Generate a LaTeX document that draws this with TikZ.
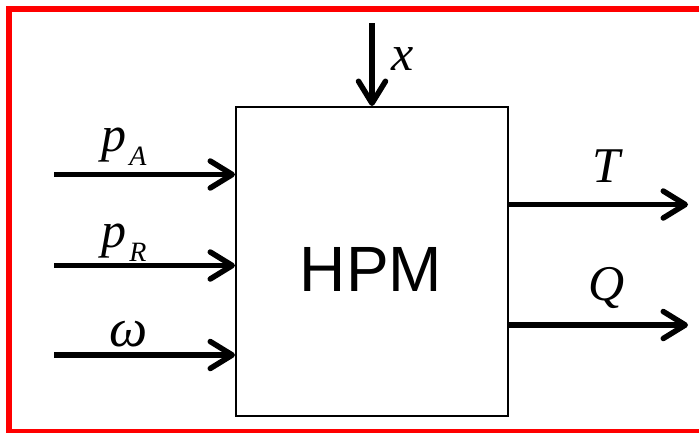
\documentclass[tikz,border=0pt]{standalone}
\usepackage{fontspec}
\setmainfont{Liberation Serif}
\newfontfamily\arialfont{Liberation Sans}
\usetikzlibrary{arrows.meta}
\tikzset{
  arr/.style={line width=5.5pt, -{Straight Barb[length=22pt,width=27pt,round]}},
  lbl/.style={inner sep=0pt, anchor=base, font=\fontsize{50}{50}\selectfont\itshape},
  frame/.style={draw=red, line width=6pt},
  blockbox/.style={draw, line width=2pt, inner sep=0pt, minimum width=272pt, minimum height=309pt}
}
\newcommand{\subl}[1]{\kern3pt\raisebox{-14pt}{\fontsize{28}{28}\selectfont\itshape #1}}
\begin{document}
\begin{tikzpicture}[x=1pt,y=-1pt]
\useasboundingbox (0,0) rectangle (699,432);
\clip (0,0) rectangle (699,432);
\draw[frame] (9,8.5) rectangle (720,431.5);
\node[blockbox] (hpm) at (372,261.5) {};
\node[inner sep=0pt, anchor=base, font=\arialfont\fontsize{64}{64}\selectfont] (hpmtxt) at (371,291) {HPM};
% inputs
\coordinate (ia) at (54,174.5);
\coordinate (ir) at (54,265.5);
\coordinate (iw) at (54,355);
\draw[arr] (ia) -- (ia -| hpm.west);
\draw[arr] (ir) -- (ir -| hpm.west);
\draw[arr] (iw) -- (iw -| hpm.west);
\node[lbl] (lpa) at (124,151) {p\subl{A}};
\node[lbl] (lpr) at (124,247) {p\subl{R}};
\node[lbl, font=\fontsize{54}{54}\selectfont\itshape] (lw) at (129,346) {ω};
% outputs
\coordinate (ot) at (688,204.5);
\coordinate (oq) at (688,325);
\draw[arr] (ot -| hpm.east) -- (ot);
\draw[arr] (oq -| hpm.east) -- (oq);
\node[lbl] (lt) at (606,182) {T};
\node[lbl] (lq) at (607,300) {Q};
% top input
\coordinate (tx) at (372,23);
\draw[arr] (tx) -- (tx |- hpm.north);
\node[lbl] (lx) at (403,70) {x};
\end{tikzpicture}
\end{document}
